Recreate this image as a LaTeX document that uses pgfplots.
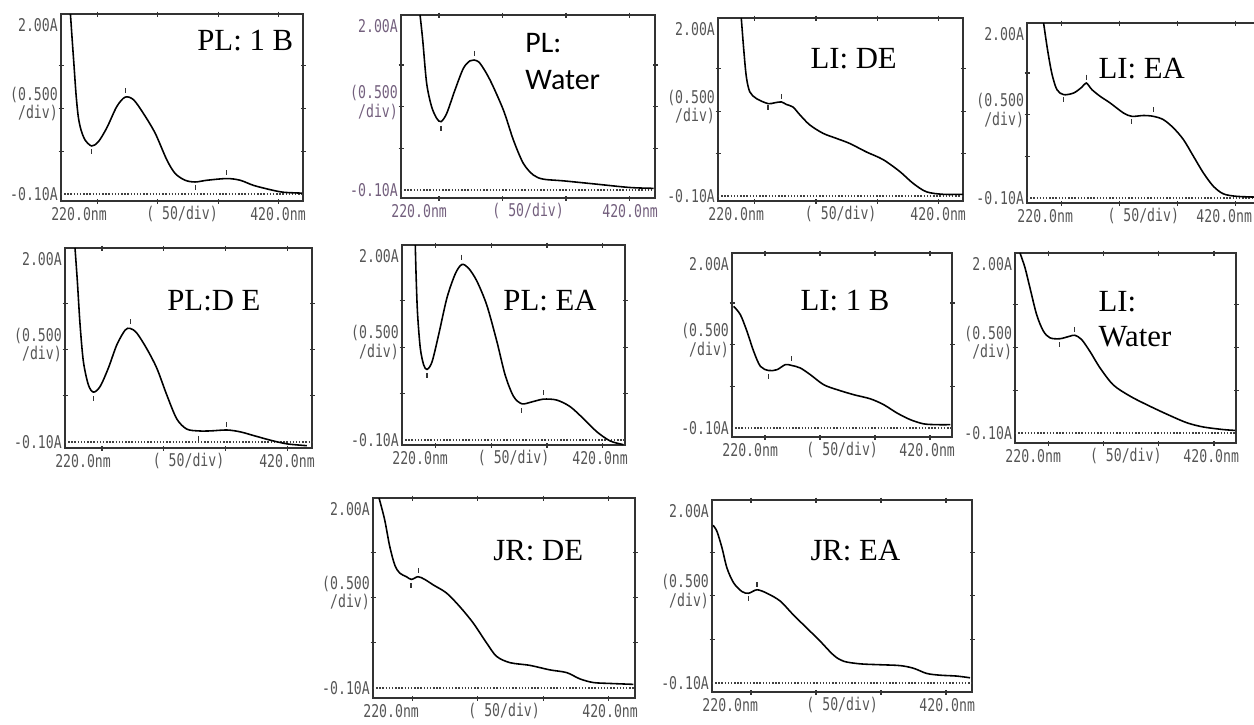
\documentclass[border=0pt]{standalone}
\usepackage{fontspec}
\usepackage{pgfplots}
\pgfplotsset{compat=1.18}
\newfontfamily\tnr{Liberation Serif}
\newfontfamily\calib{Carlito}
\newfontfamily\dmono{DejaVu Sans Mono}
\definecolor{prt}{RGB}{85,85,85}
\definecolor{pur}{RGB}{115,95,125}

\pgfplotsset{uv/.style={scale only axis, anchor=north west,
  xmin=220, xmax=420, ymax=2.0,
  xtick={250,300,350,400}, ytick={0.4,0.9,1.4},
  xticklabels={}, yticklabels={},
  tick pos=both, tick align=center, major tick length=0.1cm,
  axis line style={black!80, line width=0.9pt},
  every tick/.style={black!80, line width=0.7pt},
  clip=false}}
\tikzset{
  crv/.style={black, line width=0.9pt, smooth, tension=0.5},
  base/.style={black!75, densely dotted, line width=0.8pt},
  pk/.style={only marks, mark=|, mark size=0.05cm, black!80, mark options={line width=0.6pt}},
  lab/.style={font=\dmono\fontsize{10}{10.5}\selectfont, text=prt, xscale=0.75, inner sep=0pt},
  ttl/.style={font=\tnr\fontsize{17.5}{21}\selectfont, anchor=base west, inner sep=0pt}}

% printer labels round a frame: left right top bottom dotted colour (pixels)
\newcommand{\frametext}[6]{%
  \begin{scope}[x=0.02cm, y=-0.02cm]
  \node[lab,text=#6,anchor=east] at ({#1-3},{#3+11}) {2.00A};
  \node[lab,text=#6,anchor=east,align=right] at ({#1-3},{(#3+#5)/2}) {(0.500\\/div)};
  \node[lab,text=#6,anchor=east] at ({#1-3},{#5}) {-0.10A};
  \node[lab,text=#6,anchor=west] at ({#1-10},{#4+13}) {220.0nm};
  \node[lab,text=#6] at ({(#1+#2)/2},{#4+13}) {(\ 50/div)};
  \node[lab,text=#6,anchor=east] at ({min(#2+3,1252)},{#4+13}) {420.0nm};
  \end{scope}}

\begin{document}
\begin{tikzpicture}
\useasboundingbox (0,0) rectangle (25.08cm,-14.48cm);

% ---------- row 1 ----------
\begin{axis}[uv, at={(1.22cm,-0.28cm)}, width=4.84cm, height=3.74cm, ymin=-0.182]
\addplot[base] coordinates {(220,-0.1) (420,-0.1)};
\addplot[crv] coordinates {(227.8,2.0) (229,1.75) (230.8,1.39) (232.5,1.05) (234.3,0.80)
  (236.5,0.65) (239.9,0.53) (245.4,0.46) (250.9,0.51) (257.8,0.67) (266.1,0.92) (273,1.03)
  (279.9,1.0) (288.1,0.84) (297.8,0.61) (307.4,0.30) (314.3,0.14) (322.6,0.06) (330.9,0.04)
  (340.6,0.06) (357.1,0.08) (368.1,0.06) (379.2,0.0) (393,-0.05) (404,-0.08) (419.2,-0.09)};
\addplot[pk] coordinates {(245.4,0.39) (273,1.11) (330.9,-0.02) (357.1,0.15)};
\end{axis}

\begin{axis}[uv, at={(8.02cm,-0.30cm)}, width=5.08cm, height=3.66cm, ymin=-0.196]
\addplot[base] coordinates {(220,-0.1) (420,-0.1)};
\addplot[crv] coordinates {(235,2.0) (237.1,1.70) (240.2,1.18) (244.1,0.90) (248.1,0.76)
  (251.5,0.72) (256,0.82) (262.5,1.10) (269.1,1.36) (274.3,1.45) (277.5,1.46) (282.2,1.42)
  (290.1,1.22) (300.6,0.86) (308.5,0.50) (316.3,0.22) (324.2,0.08) (332.1,0.03) (347.8,0.01)
  (374.1,-0.03) (400.3,-0.07) (419,-0.08)};
\addplot[pk] coordinates {(251.5,0.64) (277.5,1.54)};
\end{axis}

\begin{axis}[uv, at={(14.36cm,-0.36cm)}, width=4.90cm, height=3.66cm, ymin=-0.159]
\addplot[base] coordinates {(220,-0.1) (420,-0.1)};
\addplot[crv] coordinates {(239,2.0) (241,1.63) (243.1,1.31) (245.9,1.13) (251.3,1.05)
  (260.8,0.99) (266.3,1.00) (271.7,1.01) (275.8,0.98) (281.2,0.95) (286.7,0.86) (294.8,0.74)
  (305.7,0.64) (316.6,0.58) (327.5,0.52) (341.1,0.42) (354.7,0.33) (368.3,0.19) (379.2,0.05)
  (390.1,-0.05) (403.7,-0.08) (420,-0.08)};
\addplot[pk] coordinates {(260.8,0.94) (271.7,1.07)};
\end{axis}

\begin{axis}[uv, at={(20.54cm,-0.46cm)}, width=4.64cm, height=3.60cm, ymin=-0.160]
\addplot[base] coordinates {(220,-0.1) (420,-0.1)};
\addplot[crv] coordinates {(234.3,2.0) (237.8,1.67) (241.5,1.39) (245.8,1.20) (251.6,1.14)
  (260.2,1.16) (267.3,1.23) (271.1,1.28) (276,1.20) (283.1,1.12) (291.7,1.04) (303.2,0.92)
  (310.4,0.88) (320.4,0.89) (329,0.88) (337.6,0.84) (346.3,0.74) (354.9,0.60) (363.5,0.40)
  (372.1,0.20) (380.7,0.04) (389.3,-0.05) (400.8,-0.08) (420,-0.09)};
\addplot[pk] coordinates {(251.6,1.08) (271.1,1.35) (310.4,0.82) (329,0.96)};
\end{axis}

% ---------- row 2 ----------
\begin{axis}[uv, at={(1.30cm,-4.96cm)}, width=4.94cm, height=4.00cm, ymin=-0.165]
\addplot[base] coordinates {(220,-0.1) (420,-0.1)};
\addplot[crv] coordinates {(228.1,2.0) (230,1.64) (232.2,1.17) (234.9,0.77) (238.9,0.52)
  (243,0.44) (248.4,0.50) (255.1,0.70) (261.9,0.95) (268.6,1.11) (272.7,1.13) (278.1,1.08)
  (286.2,0.91) (294.3,0.70) (302.4,0.41) (310.5,0.15) (318.6,0.04) (328.1,0.02) (337.6,0.02)
  (351.1,0.03) (361.9,0.01) (372.7,-0.03) (386.2,-0.08) (399.7,-0.12) (415.9,-0.14)};
\addplot[pk] coordinates {(243,0.37) (272.7,1.20) (328.1,-0.06) (351.1,0.09)};
\end{axis}

\begin{axis}[uv, at={(8.04cm,-4.90cm)}, width=4.46cm, height=4.00cm, ymin=-0.154]
\addplot[base] coordinates {(220,-0.1) (420,-0.1)};
\addplot[crv] coordinates {(231.9,2.0) (232.8,1.61) (234,1.25) (236.4,0.89) (239.4,0.71)
  (242.4,0.66) (246.9,0.74) (252.8,1.03) (260.3,1.43) (267.8,1.69) (273.7,1.79) (279.7,1.75)
  (287.2,1.61) (296.1,1.35) (305.1,0.96) (312.5,0.60) (320,0.37) (327.5,0.29) (336.4,0.31)
  (346.9,0.34) (358.8,0.33) (370.7,0.26) (382.7,0.13) (394.6,-0.01) (406.6,-0.11) (418.5,-0.15)};
\addplot[pk] coordinates {(242.4,0.59) (273.7,1.87) (327.5,0.22) (346.9,0.41)};
\end{axis}

\begin{axis}[uv, at={(14.64cm,-5.06cm)}, width=4.40cm, height=3.68cm, ymin=-0.208]
\addplot[base] coordinates {(220,-0.1) (420,-0.1)};
\addplot[crv] coordinates {(221.5,1.36) (227.6,1.26) (233.6,1.06) (239.7,0.82) (245.8,0.64)
  (253.3,0.59) (260.9,0.60) (268.5,0.66) (274.5,0.65) (282.1,0.62) (291.2,0.54) (303.3,0.42)
  (315.5,0.36) (330.6,0.30) (345.8,0.25) (357.9,0.18) (370,0.08) (382.1,0.0) (394.2,-0.05)
  (406.4,-0.06) (418.5,-0.06)};
\addplot[pk] coordinates {(253.3,0.52) (274.5,0.73)};
\end{axis}

\begin{axis}[uv, at={(20.30cm,-5.06cm)}, width=4.42cm, height=3.80cm, ymin=-0.217]
\addplot[base] coordinates {(220,-0.1) (420,-0.1)};
\addplot[crv] coordinates {(224.5,2.0) (229,1.83) (233.6,1.59) (239.6,1.28) (245.6,1.09)
  (251.7,1.01) (260.7,1.0) (269.8,1.03) (274.3,1.04) (280.3,0.99) (287.9,0.85) (296.9,0.66)
  (309,0.46) (324.1,0.33) (339.2,0.23) (357.3,0.12) (375.4,0.02) (390.4,-0.03) (408.5,-0.06)
  (419.1,-0.07)};
\addplot[pk] coordinates {(260,0.93) (274,1.11)};
\end{axis}

% ---------- row 3 ----------
\begin{axis}[uv, at={(7.46cm,-9.96cm)}, width=5.24cm, height=4.00cm, ymin=-0.211]
\addplot[base] coordinates {(220,-0.1) (420,-0.1)};
\addplot[crv] coordinates {(224.6,2.0) (228.9,1.76) (232.7,1.47) (236.6,1.26) (240.4,1.17)
  (245.5,1.13) (249.3,1.10) (254.4,1.13) (259.5,1.10) (265.9,1.04) (276.1,0.95) (286.2,0.80)
  (296.4,0.62) (306.6,0.40) (314.3,0.25) (324.5,0.18) (339.7,0.15) (355,0.10) (367.8,0.07)
  (378,0.0) (388.2,-0.04) (400.9,-0.05) (418.7,-0.06)};
\addplot[pk] coordinates {(249,1.03) (254.4,1.20)};
\end{axis}

\begin{axis}[uv, at={(14.24cm,-10.00cm)}, width=5.20cm, height=3.84cm, ymin=-0.203]
\addplot[base] coordinates {(220,-0.1) (420,-0.1)};
\addplot[crv] coordinates {(220.8,1.71) (223.8,1.64) (227.7,1.45) (231.5,1.22) (236.6,1.05)
  (243,0.95) (248.2,0.93) (254.6,0.97) (262.3,0.93) (272.5,0.84) (282.7,0.68) (293,0.53)
  (303.2,0.38) (313.5,0.22) (321.2,0.15) (334,0.12) (349.3,0.11) (364.7,0.10) (374.9,0.07)
  (385.2,0.01) (395.4,-0.01) (408.2,-0.02) (418.5,-0.04)};
\addplot[pk] coordinates {(248.2,0.87) (254.6,1.03)};
\end{axis}

% ---------- printer labels ----------
\frametext{61}{303}{14}{201}{194}{prt}
\frametext{401}{655}{15}{198}{190}{pur}
\frametext{718}{963}{18}{201}{196}{prt}
\frametext{1027}{1259}{23}{203}{198}{prt}
\frametext{65}{312}{248}{448}{442}{prt}
\frametext{402}{625}{245}{445}{440}{prt}
\frametext{732}{952}{253}{437}{428}{prt}
\frametext{1015}{1236}{253}{443}{433}{prt}
\frametext{373}{635}{498}{698}{688}{prt}
\frametext{712}{972}{500}{692}{683}{prt}

% ---------- panel titles ----------
\begin{scope}[x=0.02cm, y=-0.02cm]
\node[ttl] at (197,50) {PL: 1 B};
\node[ttl,font=\calib\fontsize{17}{20}\selectfont] at (525,52) {PL:};
\node[ttl,font=\calib\fontsize{17}{20}\selectfont] at (525,89) {Water};
\node[ttl] at (810,68) {LI: DE};
\node[ttl] at (1098,78) {LI: EA};
\node[ttl] at (167,310) {PL:D E};
\node[ttl] at (503,310) {PL: EA};
\node[ttl] at (800,310) {LI: 1 B};
\node[ttl] at (1098,311) {LI:};
\node[ttl] at (1098,346) {Water};
\node[ttl] at (493,560) {JR: DE};
\node[ttl] at (810,560) {JR: EA};
\end{scope}
\end{tikzpicture}
\end{document}
